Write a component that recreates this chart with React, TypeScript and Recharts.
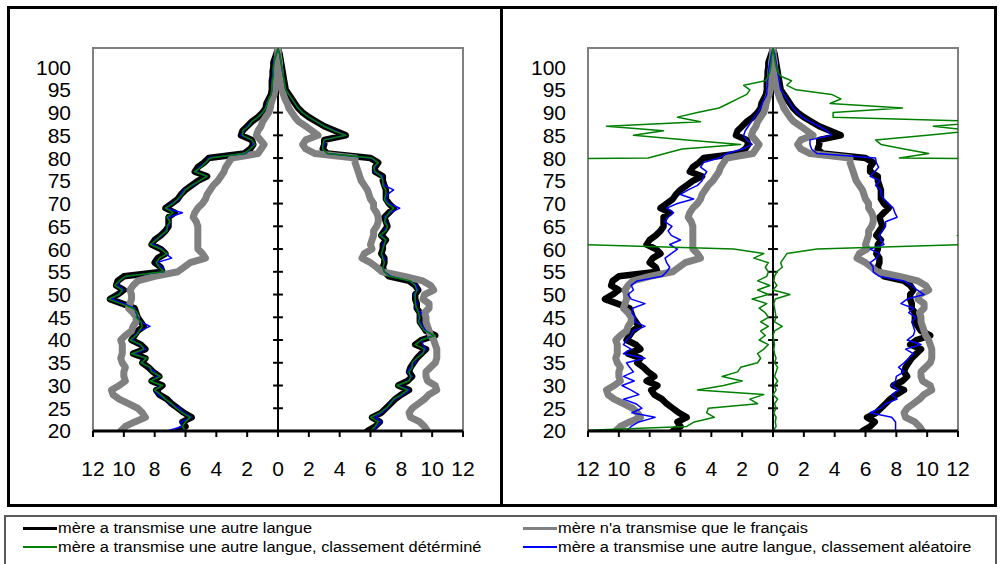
import React from 'react';
import { LineChart, Line, XAxis, YAxis, ReferenceLine, ReferenceArea } from 'recharts';

// ages 20 .. 104
const AGES: number[] = Array.from({ length: 85 }, (_, i) => 20 + i);
const OFF = 60; // value far outside the visible scale (clipped)

const X_TICKS = [-12, -10, -8, -6, -4, -2, 0, 2, 4, 6, 8, 10, 12];
const Y_TICKS = [20, 25, 30, 35, 40, 45, 50, 55, 60, 65, 70, 75, 80, 85, 90, 95, 100];
const CENTER_TICKS = [25, 30, 35, 40, 45, 50, 55, 60, 65, 70, 75, 80, 85, 90, 95, 100];

// shared series: "mère a transmise une autre langue" (black) and "mère n'a transmise que le français" (gray)
const blackL = [6.5, 6.0, 6.2, 5.6, 6.1, 6.5, 6.9, 7.2, 7.7, 7.9,
  7.5, 8.2, 7.7, 8.1, 8.4, 8.8, 8.6, 9.4, 8.6, 8.9,
  9.5, 9.3, 9.1, 8.7, 8.9, 9.1, 9.2, 9.3, 10.1, 10.9,
  10.4, 10.0, 10.5, 10.4, 10.0, 7.5, 7.6, 8.0, 7.8, 7.3,
  7.6, 8.2, 8.0, 7.6, 7.3, 7.1, 7.1, 7.1, 6.7, 7.3,
  6.9, 6.5, 6.3, 6.0, 5.6, 5.2, 4.6, 5.4, 5.2, 4.8,
  4.5, 2.2, 1.8, 1.6, 1.7, 2.4, 2.3, 2.0, 1.7, 1.3,
  1.0, 0.8, 0.75, 0.6, 0.45, 0.4, 0.4, 0.4, 0.35, 0.35,
  0.3, 0.3, 0.2, 0.1, 0];
const blackR = [5.8, 6.3, 6.6, 6.1, 6.7, 7.0, 7.3, 7.6, 8.0, 8.5,
  7.8, 8.4, 8.7, 8.5, 8.6, 8.8, 9.0, 9.3, 9.6, 8.9,
  9.3, 10.2, 9.6, 9.4, 9.2, 9.2, 9.2, 9.0, 9.0, 8.9,
  8.9, 9.1, 8.9, 8.5, 7.2, 6.9, 6.8, 6.9, 6.9, 6.7,
  6.8, 6.8, 7.0, 6.7, 6.9, 7.1, 7.0, 6.9, 7.2, 7.5,
  7.2, 7.0, 7.0, 7.0, 6.9, 6.8, 6.8, 6.3, 6.3, 6.5,
  6.0, 3.2, 2.9, 3.0, 3.0, 4.4, 3.7, 3.0, 2.5, 2.0,
  1.6, 1.3, 1.1, 0.9, 0.7, 0.5, 0.45, 0.4, 0.35, 0.3,
  0.25, 0.2, 0.15, 0.1, 0];
const grayL = [10.2, 9.9, 9.3, 8.6, 8.8, 9.1, 9.7, 10.3, 10.7, 10.8,
  10.3, 9.9, 10.0, 10.0, 9.9, 10.1, 10.2, 10.1, 10.1, 10.1,
  10.2, 9.9, 9.5, 9.4, 9.2, 9.2, 9.4, 9.7, 9.6, 9.5,
  9.5, 9.6, 9.4, 9.1, 8.0, 6.5, 6.1, 5.7, 4.7, 4.9,
  5.2, 5.2, 5.2, 5.2, 5.2, 5.2, 5.3, 5.5, 5.4, 5.2,
  4.9, 4.7, 4.6, 4.4, 4.2, 3.9, 3.7, 3.5, 3.4, 3.2,
  3.0, 1.3, 1.1, 0.9, 1.15, 1.4, 1.3, 1.1, 1.0, 0.8,
  0.6, 0.5, 0.45, 0.35, 0.25, 0.2, 0.2, 0.2, 0.15, 0.15,
  0.1, 0.1, 0.05, 0, 0];
const grayR = [9.7, 9.5, 9.2, 8.6, 8.5, 8.7, 9.1, 9.5, 9.8, 10.3,
  10.2, 9.7, 9.6, 9.6, 9.9, 10.2, 10.3, 10.3, 10.3, 10.2,
  10.1, 9.9, 9.8, 9.7, 9.6, 9.6, 9.5, 9.8, 9.8, 9.4,
  9.5, 10.1, 9.9, 9.4, 8.2, 6.75, 6.4, 6.0, 5.45, 5.6,
  6.1, 6.0, 6.1, 6.2, 6.2, 6.4, 6.5, 6.5, 6.4, 6.2,
  6.2, 6.0, 5.9, 5.8, 5.6, 5.4, 5.3, 5.2, 5.1, 5.0,
  5.0, 2.4, 1.8, 1.6, 1.8, 2.6, 2.2, 1.8, 1.35, 1.1,
  0.9, 0.7, 0.6, 0.45, 0.35, 0.25, 0.2, 0.2, 0.15, 0.15,
  0.1, 0.1, 0.05, 0, 0];

// left panel: classement déterminé (green) / aléatoire (blue)
const detL1 = [6.0, 6.2, 6.0, 5.7, 6.2, 6.6, 6.9, 7.3, 7.6, 8.0,
  7.5, 8.3, 7.6, 8.2, 8.3, 8.9, 8.5, 9.5, 8.7, 8.9,
  9.6, 9.2, 9.0, 8.8, 8.9, 9.2, 9.1, 9.4, 10.2, 11.0,
  10.3, 10.1, 10.6, 10.3, 9.9, 7.4, 7.7, 7.9, 7.7, 7.2,
  7.6, 8.3, 7.9, 7.6, 7.2, 7.2, 7.0, 7.2, 6.8, 7.3,
  6.8, 6.5, 6.2, 6.0, 5.6, 5.1, 4.6, 5.4, 5.0, 4.7,
  4.4, 2.2, 1.8, 1.5, 1.7, 2.3, 2.3, 1.9, 1.7, 1.3,
  1.0, 0.8, 0.7, 0.6, 0.45, 0.4, 0.4, 0.35, 0.3, 0.3,
  0.3, 0.25, 0.2, 0.1, 0];
const detR1 = [6.0, 6.3, 6.5, 6.0, 6.6, 7.0, 7.3, 7.5, 8.0, 8.4,
  7.7, 8.5, 8.6, 8.5, 8.7, 8.7, 9.0, 9.4, 9.5, 8.9,
  9.3, 10.2, 9.5, 9.3, 9.1, 9.2, 9.1, 9.0, 8.9, 8.9,
  8.9, 9.0, 8.9, 8.6, 7.2, 6.9, 6.8, 6.9, 6.8, 6.7,
  6.8, 6.9, 7.0, 6.6, 7.0, 7.1, 6.9, 7.0, 7.2, 7.5,
  7.1, 6.9, 7.0, 7.0, 6.8, 6.8, 6.7, 6.3, 6.2, 6.5,
  6.1, 3.2, 2.9, 2.9, 3.0, 4.4, 3.6, 3.0, 2.5, 2.0,
  1.6, 1.3, 1.1, 0.9, 0.7, 0.5, 0.45, 0.4, 0.35, 0.3,
  0.25, 0.2, 0.15, 0.1, 0];
const aleL1 = [7.2, 6.2, 6.3, 5.6, 6.1, 6.4, 7.0, 7.3, 7.8, 8.0,
  7.6, 8.2, 7.8, 8.0, 8.4, 8.8, 8.6, 9.3, 8.6, 9.0,
  9.4, 9.3, 9.0, 8.3, 8.9, 9.1, 9.2, 9.3, 10.0, 10.8,
  10.4, 10.0, 10.4, 10.3, 9.9, 7.4, 7.5, 7.9, 6.9, 7.3,
  7.5, 8.1, 8.0, 7.5, 7.3, 7.1, 7.0, 7.1, 6.2, 7.3,
  6.9, 6.4, 6.3, 6.1, 5.5, 5.1, 4.6, 5.3, 5.1, 4.7,
  4.5, 2.1, 1.8, 1.6, 1.7, 2.4, 2.2, 2.0, 1.7, 1.3,
  1.0, 0.8, 0.75, 0.6, 0.45, 0.4, 0.4, 0.4, 0.35, 0.35,
  0.3, 0.3, 0.2, 0.1, 0];
const aleR1 = [6.2, 6.4, 6.7, 6.3, 6.7, 7.1, 7.2, 7.6, 8.1, 8.5,
  7.8, 8.4, 8.7, 8.4, 8.6, 8.9, 9.0, 9.3, 9.6, 9.4,
  9.3, 10.1, 9.6, 9.4, 9.2, 9.1, 9.3, 8.9, 9.0, 8.9,
  8.8, 9.1, 9.0, 8.5, 7.3, 6.9, 6.8, 6.9, 6.9, 6.7,
  6.8, 6.8, 7.0, 6.7, 6.9, 7.1, 7.0, 6.9, 7.3, 7.9,
  7.2, 7.0, 7.1, 7.5, 6.9, 6.8, 6.8, 6.2, 6.3, 6.5,
  6.0, 3.2, 2.9, 3.0, 3.0, 4.4, 3.7, 3.0, 2.5, 2.0,
  1.6, 1.3, 1.1, 0.9, 0.7, 0.5, 0.45, 0.4, 0.35, 0.3,
  0.25, 0.2, 0.15, 0.1, 0];

// right panel: classement déterminé (green) / aléatoire (blue)
const detL2 = [13.5, 5.6, 5.1, 3.8, 4.3, 4.2, 1.0, 1.5, 0.6, 4.9,
  3.2, 2.0, 3.3, 2.3, 2.1, 1.0, 0.8, 1.0, 0.6, 0.3,
  0.9, 0.5, 0.8, 0.3, 0.8, 0.3, 0.5, 0.9, 0.4, 1.35,
  0.3, 1.0, 0.2, 1.0, 0.4, 0.3, 0.5, 0.3, 1.25, 0.6,
  2.55, 12.3, OFF, OFF, OFF, OFF, OFF, OFF, OFF, OFF,
  OFF, OFF, OFF, OFF, OFF, OFF, OFF, OFF, OFF, OFF,
  8.1, 7.0, 5.9, 2.1, 5.6, 9.05, 7.1, 10.8, 4.7, 6.2,
  4.9, 3.5, 2.9, 2.3, 1.7, 1.5, 1.9, 0.5, 0.3, 0.2,
  0.15, 0.1, 0.1, 0.05, 0];
const detR2 = [0.0, 0.2, 0.15, 0.2, 0.05, 0.2, 0.1, 0.3, 0.0, 0.2,
  0.1, 0.3, 0.1, 0.2, 0.3, 0.1, 0.2, 0.1, 0.05, 0.1,
  0.05, 0.0, 0.1, 0.6, 0.1, 0.2, 0.15, 0.1, 0.05, 0.15,
  1.1, 0.0, 0.25, 0.05, 0.1, 0.25, 0.6, 0.5, 0.7, 0.9,
  2.85, 12.5, OFF, 11.95, OFF, OFF, OFF, OFF, OFF, OFF,
  OFF, OFF, OFF, OFF, OFF, OFF, OFF, OFF, OFF, OFF,
  8.2, 10.1, 8.5, 7.0, 6.65, 10.0, 13.0, 10.4, 14.0, 3.9,
  3.9, 8.4, 3.7, 4.4, 3.8, 1.5, 0.9, 1.2, 0.5, 0.3,
  0.2, 0.15, 0.1, 0.05, 0];
const aleL2 = [9.5, 9.2, 8.7, 7.65, 9.15, 8.5, 8.9, 9.7, 8.7, 9.2,
  9.8, 9.0, 9.7, 9.05, 9.3, 9.5, 8.3, 9.7, 9.2, 9.7,
  9.5, 9.2, 9.1, 8.3, 8.95, 8.95, 9.15, 9.1, 8.3, 9.2,
  9.4, 9.05, 9.2, 8.8, 7.2, 6.9, 6.7, 6.9, 7.0, 6.6,
  6.2, 6.7, 6.0, 6.6, 6.8, 6.55, 7.0, 6.8, 6.45, 6.9,
  6.2, 5.15, 6.0, 5.5, 4.9, 4.6, 4.5, 4.3, 4.7, 4.5,
  3.5, 3.0, 2.0, 1.35, 1.7, 1.9, 1.8, 1.6, 1.4, 1.2,
  1.0, 0.8, 0.7, 0.55, 0.4, 0.4, 0.35, 0.35, 0.3, 0.3,
  0.25, 0.2, 0.15, 0.1, 0];
const aleR2 = [7.95, 7.95, 7.95, 7.7, 6.3, 6.95, 7.3, 8.05, 7.7, 8.15,
  7.7, 7.95, 8.0, 8.5, 8.15, 8.5, 8.8, 9.1, 8.6, 9.6,
  8.7, 9.1, 9.2, 9.1, 9.0, 9.25, 8.8, 9.1, 8.3, 8.7,
  9.8, 9.35, 9.0, 8.5, 6.9, 6.5, 6.5, 6.3, 6.7, 6.9,
  6.3, 7.2, 7.0, 6.9, 7.1, 7.3, 7.3, 8.05, 7.9, 7.8,
  7.5, 7.2, 7.0, 7.0, 6.65, 6.95, 6.3, 6.6, 6.85, 6.7,
  6.65, 2.85, 2.5, 2.4, 2.4, 3.8, 3.5, 3.0, 2.4, 1.9,
  1.6, 1.3, 1.1, 0.9, 0.7, 0.5, 0.45, 0.4, 0.35, 0.3,
  0.25, 0.2, 0.15, 0.1, 0];

const FONT = '"Liberation Sans", Arial, sans-serif';

type Row = Record<string, number>;

function buildRows(detL: number[], detR: number[], aleL: number[], aleR: number[]): Row[] {
  return AGES.map((age, i) => ({
    age,
    blackL: -blackL[i],
    blackR: blackR[i],
    grayL: -grayL[i],
    grayR: grayR[i],
    detL: -detL[i],
    detR: detR[i],
    aleL: -aleL[i],
    aleR: aleR[i],
  }));
}

const panel1 = buildRows(detL1, detR1, aleL1, aleR1);
const panel2 = buildRows(detL2, detR2, aleL2, aleR2);

const SERIES: { key: string; color: string; width: number }[] = [
  { key: 'blackL', color: '#000000', width: 6.5 },
  { key: 'blackR', color: '#000000', width: 6.5 },
  { key: 'grayL', color: '#808080', width: 7 },
  { key: 'grayR', color: '#808080', width: 7 },
  { key: 'aleL', color: '#0000FF', width: 1.5 },
  { key: 'aleR', color: '#0000FF', width: 1.5 },
  { key: 'detL', color: '#008000', width: 1.5 },
  { key: 'detR', color: '#008000', width: 1.5 },
];

function Pyramid({ data }: { data: Row[] }) {
  return (
    <LineChart
      width={500}
      height={505}
      layout="vertical"
      data={data}
      margin={{ top: 48, right: 37, bottom: 14, left: 0 }}
    >
      <XAxis
        type="number"
        domain={[-12, 12]}
        allowDataOverflow
        ticks={X_TICKS}
        interval={0}
        tickFormatter={(v: number) => String(Math.abs(v))}
        height={60}
        tickSize={6}
        tickMargin={24}
        axisLine={{ stroke: '#000', strokeWidth: 3 }}
        tickLine={{ stroke: '#000', strokeWidth: 2 }}
        tick={{ fill: '#000', fontSize: 21, fontFamily: FONT }}
      />
      <YAxis
        type="number"
        dataKey="age"
        domain={[20, 104.2]}
        reversed
        allowDataOverflow
        ticks={Y_TICKS}
        interval={0}
        width={93}
        axisLine={false}
        tickLine={false}
        tickSize={0}
        tickMargin={22}
        tick={{ fill: '#000', fontSize: 21, fontFamily: FONT }}
      />
      <ReferenceArea x1={-12} x2={12} y1={20} y2={104.2} fill="none" fillOpacity={0} stroke="#808080" strokeWidth={2} />
      <ReferenceLine x={0} stroke="#000" strokeWidth={2} />
      {CENTER_TICKS.map((a) => (
        <ReferenceLine key={a} segment={[{ x: -0.32, y: a }, { x: 0.32, y: a }]} stroke="#000" strokeWidth={2} />
      ))}
      {SERIES.map((s) => (
        <Line
          key={s.key}
          dataKey={s.key}
          type="linear"
          stroke={s.color}
          strokeWidth={s.width}
          strokeLinejoin="round"
          strokeLinecap="round"
          dot={false}
          activeDot={false}
          isAnimationActive={false}
        />
      ))}
    </LineChart>
  );
}

const LEGEND = [
  { label: 'mère a transmise une autre langue', color: '#000000', thick: 3, col: 0, row: 0 },
  { label: "mère n'a transmise que le français", color: '#808080', thick: 3, col: 1, row: 0 },
  { label: 'mère a transmise une autre langue, classement détérminé', color: '#008000', thick: 1.5, col: 0, row: 1 },
  { label: 'mère a transmise une autre langue, classement aléatoire', color: '#0000FF', thick: 1.5, col: 1, row: 1 },
];

export default function App() {
  return (
    <div style={{ position: 'absolute', left: 0, top: 0, width: 1000, height: 564, background: '#fff', overflow: 'hidden', fontFamily: FONT }}>
      <div style={{ position: 'absolute', left: 7, top: 6, width: 496, height: 501, border: '3px solid #000', boxSizing: 'border-box' }} />
      <div style={{ position: 'absolute', left: 500, top: 6, width: 497, height: 501, border: '3px solid #000', boxSizing: 'border-box' }} />
      <div style={{ position: 'absolute', left: 0, top: 0 }}>
        <Pyramid data={panel1} />
      </div>
      <div style={{ position: 'absolute', left: 495, top: 0 }}>
        <Pyramid data={panel2} />
      </div>
      <div style={{ position: 'absolute', left: 4, top: 515, width: 993, height: 60, border: '2px solid #5a5a5a', boxSizing: 'border-box' }} />
      {LEGEND.map((l) => {
        const x0 = l.col === 0 ? 23 : 523;
        const yc = l.row === 0 ? 528 : 547;
        return (
          <React.Fragment key={l.label}>
            <div style={{ position: 'absolute', left: x0, top: yc - l.thick / 2, width: 34, height: l.thick, background: l.color }} />
            <div
              style={{
                position: 'absolute',
                left: x0 + 35,
                top: yc - 9,
                fontSize: 14,
                lineHeight: '18px',
                whiteSpace: 'nowrap',
                color: '#000',
                transform: 'scaleX(1.17)',
                transformOrigin: 'left center',
              }}
            >
              {l.label}
            </div>
          </React.Fragment>
        );
      })}
    </div>
  );
}
